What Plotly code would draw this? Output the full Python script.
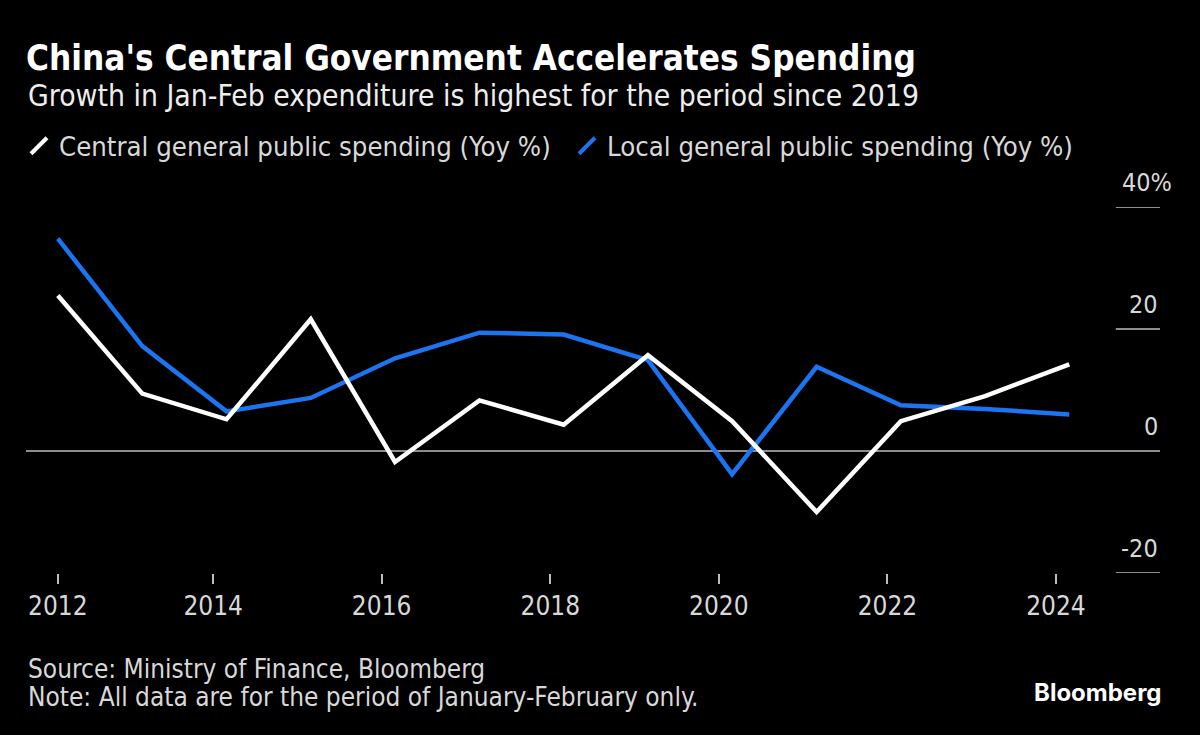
import plotly.graph_objects as go

# ---- data ----
years = [2012, 2013, 2014, 2015, 2016, 2017, 2018, 2019, 2020, 2021, 2022, 2023, 2024]
central_yoy = [25.5, 9.4, 5.2, 21.6, -1.8, 8.3, 4.3, 15.7, 4.9, -10.0, 4.9, 9.0, 14.2]
local_yoy = [34.8, 17.2, 6.5, 8.7, 15.2, 19.4, 19.1, 14.9, -3.8, 13.8, 7.5, 6.9, 6.0]
x_tick_vals = ["2012-02-28", "2014-01-01", "2016-01-01", "2018-01-01", "2020-01-01", "2022-01-01", "2024-01-01"]
x_tick_labels = ["2012", "2014", "2016", "2018", "2020", "2022", "2024"]
y_tick_vals = [40, 20, 0, -20]
y_tick_labels = ["40%", "20", "0", "-20"]

dates = [f"{y}-02-28" for y in years]

FONT = "DejaVu Sans Condensed, DejaVu Sans, sans-serif"
BLUE = "#1C74F0"
TXT = "#D8D8D8"

# layout geometry (pixels)
W, H = 1200, 735
ML, MR, MT, MB = 26, 40, 207, 162
PW, PH = W - ML - MR, H - MT - MB


def px_x(px):
    return (px - ML) / PW


def px_y(py):
    return (H - MB - py) / PH


fig = go.Figure()

fig.add_trace(go.Scatter(x=dates, y=local_yoy, mode="lines",
                         line=dict(color=BLUE, width=4.5), showlegend=False))
fig.add_trace(go.Scatter(x=dates, y=central_yoy, mode="lines",
                         line=dict(color="#FFFFFF", width=4.5), showlegend=False))

# legend-only entries with slash symbols
fig.add_trace(go.Scatter(x=[None], y=[None], mode="markers", name="Central general public spending (Yoy %)",
                         marker=dict(symbol="line-ne", size=16, line=dict(color="#FFFFFF", width=4))))
fig.add_trace(go.Scatter(x=[None], y=[None], mode="markers", name="Local general public spending (Yoy %)",
                         marker=dict(symbol="line-ne", size=16, line=dict(color=BLUE, width=4))))

shapes = []
annotations = []
for v, lab in zip(y_tick_vals, y_tick_labels):
    if v == 0:
        shapes.append(dict(type="line", xref="paper", x0=0, x1=1, yref="y", y0=v, y1=v,
                           line=dict(color="#BDBDBD", width=1.5), layer="below"))
    else:
        shapes.append(dict(type="line", xref="paper", x0=0.961, x1=1, yref="y", y0=v, y1=v,
                           line=dict(color="#BDBDBD", width=1.5)))
    annotations.append(dict(x=1, xref="paper", xanchor="right", y=v, yref="y", yanchor="bottom",
                            yshift=8, xshift=(14 if lab.endswith("%") else 0), text=lab, showarrow=False,
                            font=dict(family=FONT, size=25, color=TXT)))

annotations.append(dict(x=px_x(26), xref="paper", xanchor="left", y=px_y(95), yref="paper",
                        yanchor="middle", text="Growth in Jan-Feb expenditure is highest for the period since 2019",
                        showarrow=False, font=dict(family=FONT, size=29.8, color="#EDEDED")))
annotations.append(dict(x=px_x(26), xref="paper", xanchor="left", y=px_y(669), yref="paper",
                        yanchor="middle", text="Source: Ministry of Finance, Bloomberg",
                        showarrow=False, font=dict(family=FONT, size=26, color=TXT)))
annotations.append(dict(x=px_x(26), xref="paper", xanchor="left", y=px_y(697), yref="paper",
                        yanchor="middle", text="Note: All data are for the period of January-February only.",
                        showarrow=False, font=dict(family=FONT, size=26, color=TXT)))
annotations.append(dict(x=px_x(1164), xref="paper", xanchor="right", y=px_y(692), yref="paper",
                        yanchor="middle", text="<b>Bloomberg</b>", showarrow=False,
                        font=dict(family="Inter, Open Sans, sans-serif", size=24, color="#FFFFFF")))

fig.update_layout(
    width=W, height=H,
    paper_bgcolor="#000000", plot_bgcolor="#000000",
    margin=dict(l=ML, r=MR, t=MT, b=MB),
    title=dict(text="<b>China's Central Government Accelerates Spending</b>",
               x=26 / W, xref="container", xanchor="left",
               y=1 - 58 / H, yref="container", yanchor="middle",
               font=dict(family=FONT, size=34.8, color="#FFFFFF")),
    legend=dict(orientation="h", x=19 / W, xref="container", xanchor="left", y=1 - 146 / H, yref="container",
                yanchor="middle", font=dict(family=FONT, size=27.3, color=TXT),
                entrywidth=503, entrywidthmode="pixels",
                bgcolor="rgba(0,0,0,0)"),
    xaxis=dict(type="date", range=["2011-10-13", "2025-03-27"], tickvals=x_tick_vals, ticktext=x_tick_labels,
               ticks="outside", ticklen=10, tickwidth=2, tickcolor="#BDBDBD", showgrid=False, zeroline=False,
               showline=False, tickfont=dict(family=FONT, size=26, color=TXT)),
    yaxis=dict(range=[-20, 40], showgrid=False, zeroline=False, showticklabels=False, showline=False),
    shapes=shapes, annotations=annotations,
)

fig.write_html("out.html")
